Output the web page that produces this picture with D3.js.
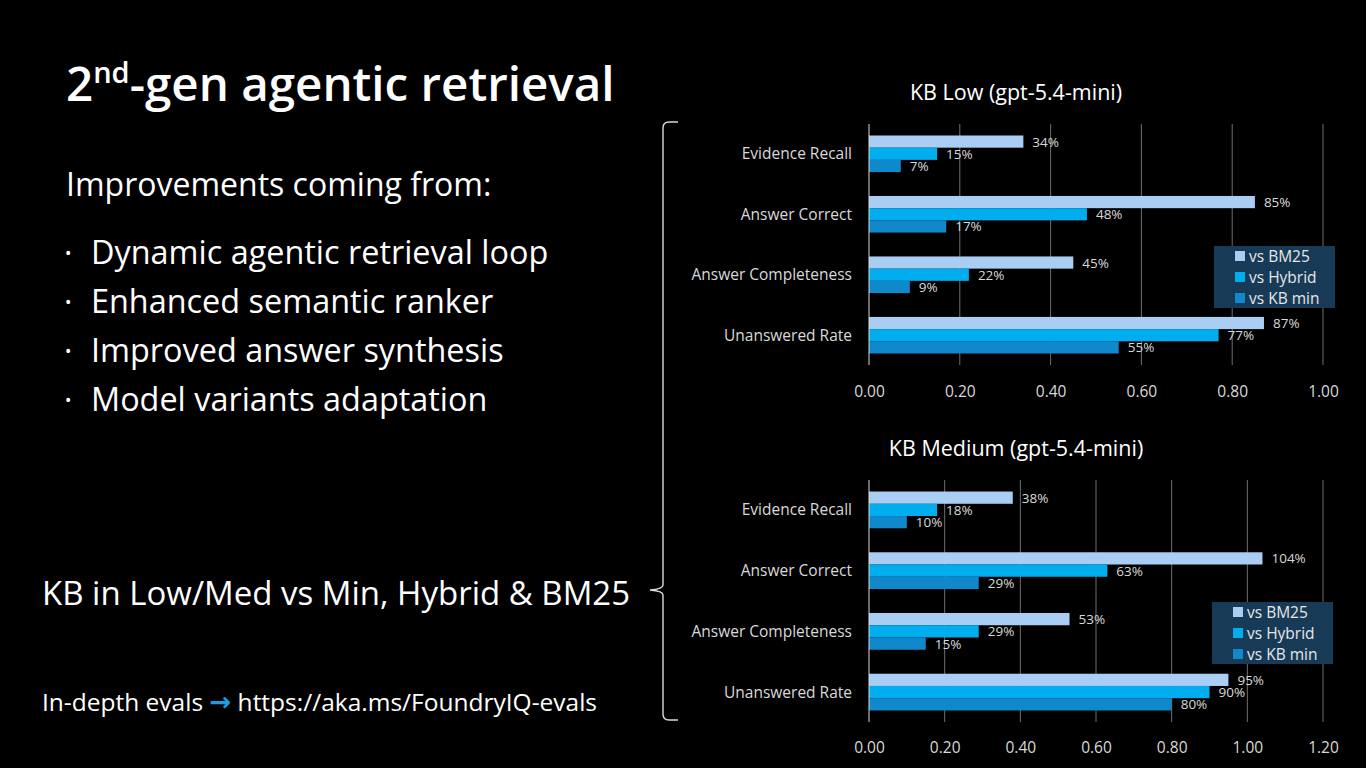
<!DOCTYPE html>
<html>
<head>
<meta charset="utf-8">
<script src="https://cdn.jsdelivr.net/npm/d3@7"></script>
<style>
  html, body { margin: 0; padding: 0; background: #000; }
  svg { display: block; font-family: "Open Sans", "Noto Sans", sans-serif; }
</style>
</head>
<body>
<svg id="slide"></svg>
<script>
// ---- data ----
const categories = ["Evidence Recall", "Answer Correct", "Answer Completeness", "Unanswered Rate"];
const seriesNames = ["vs BM25", "vs Hybrid", "vs KB min"];
const seriesColors = ["#a9cdf3", "#00aeef", "#0f88cc"];

const lowBM25   = [0.34, 0.85, 0.45, 0.87];
const lowHybrid = [0.15, 0.48, 0.22, 0.77];
const lowKBmin  = [0.07, 0.17, 0.09, 0.55];

const medBM25   = [0.38, 1.04, 0.53, 0.95];
const medHybrid = [0.18, 0.63, 0.29, 0.90];
const medKBmin  = [0.10, 0.29, 0.15, 0.80];

const lowTicks = [0, 0.2, 0.4, 0.6, 0.8, 1.0];
const medTicks = [0, 0.2, 0.4, 0.6, 0.8, 1.0, 1.2];

const bullets = ["Dynamic agentic retrieval loop", "Enhanced semantic ranker",
                 "Improved answer synthesis", "Model variants adaptation"];

const w = 1366;
const h = 768;

const svg = d3.select("#slide")
  .attr("width", w)
  .attr("height", h);

svg.append("rect").attr("width", w).attr("height", h).attr("fill", "#000");

// ---- left text ----
const title = svg.append("text")
  .attr("x", 66).attr("y", 101)
  .attr("fill", "#fff")
  .attr("font-size", 47.5)
  .attr("font-weight", 600);
title.append("tspan").text("2");
title.append("tspan").attr("font-size", 29).attr("dy", -18).text("nd");
title.append("tspan").attr("dy", 18).text("-gen agentic retrieval");

svg.append("text")
  .attr("x", 66).attr("y", 196)
  .attr("fill", "#fff")
  .attr("font-size", 32)
  .text("Improvements coming from:");

svg.selectAll("g.bullet")
  .data(bullets)
  .enter()
  .append("g")
  .attr("class", "bullet")
  .attr("transform", (d, i) => "translate(0," + (264 + i * 49) + ")")
  .call(g => {
    g.append("text").attr("x", 64).attr("fill", "#fff").attr("font-size", 32).text("·");
    g.append("text").attr("x", 91).attr("fill", "#fff").attr("font-size", 32.4).text(d => d);
  });

svg.append("text")
  .attr("x", 42).attr("y", 605)
  .attr("fill", "#fff")
  .attr("font-size", 33)
  .text("KB in Low/Med vs Min, Hybrid & BM25");

const evals = svg.append("text")
  .attr("x", 42).attr("y", 711)
  .attr("fill", "#fff")
  .attr("font-size", 24.5);
evals.append("tspan").text("In-depth evals ");
evals.append("tspan")
  .attr("fill", "#1e9be3")
  .attr("font-family", "DejaVu Sans")
  .attr("font-size", 26)
  .attr("font-weight", 700)
  .text("\u2192");
evals.append("tspan").text(" https://aka.ms/FoundryIQ-evals");

// ---- curly brace ----
const brace = d3.path();
brace.moveTo(678, 122);
brace.lineTo(669, 122);
brace.quadraticCurveTo(663, 122, 663, 128);
brace.lineTo(663, 585);
brace.quadraticCurveTo(663, 589, 650, 590);
brace.quadraticCurveTo(663, 591, 663, 595);
brace.lineTo(663, 714);
brace.quadraticCurveTo(663, 720, 669, 720);
brace.lineTo(678, 720);
svg.append("path")
  .attr("d", brace.toString())
  .attr("fill", "none")
  .attr("stroke", "#d9d9d9")
  .attr("stroke-width", 1.4);

// ---- charts ----
const drawChart = (cfg) => {
  const g = svg.append("g");
  const values = [cfg.bm25, cfg.hybrid, cfg.kbmin];
  const bottom = cfg.top + cfg.height;

  const xScale = d3.scaleLinear()
    .domain([0, cfg.ticks[cfg.ticks.length - 1]])
    .range([869, 1323]);

  const yScale = d3.scaleBand()
    .domain(categories)
    .range([cfg.top, bottom])
    .paddingInner(0.395)
    .paddingOuter(0.19);

  const ySub = d3.scaleBand()
    .domain(seriesNames)
    .range([0, yScale.bandwidth()]);

  // title
  g.append("text")
    .attr("x", 1016).attr("y", cfg.top - 24)
    .attr("text-anchor", "middle")
    .attr("fill", "#fff")
    .attr("font-size", 21.5)
    .text(cfg.title);

  // gridlines
  g.selectAll("line.grid")
    .data(cfg.ticks.slice(1))
    .enter()
    .append("line")
    .attr("class", "grid")
    .attr("x1", d => xScale(d)).attr("x2", d => xScale(d))
    .attr("y1", cfg.top).attr("y2", bottom)
    .attr("stroke", "#6f6f6f")
    .attr("stroke-width", 1);

  // bars
  const rows = [];
  categories.forEach((c, ci) => {
    seriesNames.forEach((s, si) => {
      rows.push({ cat: c, series: s, si: si, v: values[si][ci] });
    });
  });

  g.selectAll("rect.bar")
    .data(rows)
    .enter()
    .append("rect")
    .attr("class", "bar")
    .attr("x", xScale(0))
    .attr("y", d => yScale(d.cat) + ySub(d.series))
    .attr("width", d => xScale(d.v) - xScale(0))
    .attr("height", ySub.bandwidth())
    .attr("fill", d => seriesColors[d.si]);

  g.selectAll("text.val")
    .data(rows)
    .enter()
    .append("text")
    .attr("class", "val")
    .attr("x", d => xScale(d.v) + 9)
    .attr("y", d => yScale(d.cat) + ySub(d.series) + ySub.bandwidth() / 2 + 5)
    .attr("fill", "#d9d9d9")
    .attr("font-size", 13.5)
    .text(d => Math.round(d.v * 100) + "%");

  // zero axis line
  g.append("line")
    .attr("x1", xScale(0)).attr("x2", xScale(0))
    .attr("y1", cfg.top).attr("y2", bottom)
    .attr("stroke", "#d9d9d9");

  // category labels
  g.selectAll("text.cat")
    .data(categories)
    .enter()
    .append("text")
    .attr("class", "cat")
    .attr("x", 852)
    .attr("y", d => yScale(d) + yScale.bandwidth() / 2 + 5.5)
    .attr("text-anchor", "end")
    .attr("fill", "#d9d9d9")
    .attr("font-size", 15.5)
    .text(d => d);

  // x axis labels
  const xAxis = d3.axisBottom(xScale)
    .tickValues(cfg.ticks)
    .tickFormat(d3.format(".2f"))
    .tickSize(0)
    .tickPadding(cfg.labelPad);
  const ax = g.append("g")
    .attr("transform", "translate(0," + bottom + ")")
    .call(xAxis);
  ax.select(".domain").remove();
  ax.selectAll("text")
    .attr("fill", "#d9d9d9")
    .attr("font-size", 15.5)
    .attr("font-family", "Open Sans, sans-serif");

  // legend
  const lg = g.append("g")
    .attr("transform", "translate(" + cfg.legend[0] + "," + cfg.legend[1] + ")");
  lg.append("rect")
    .attr("width", 121).attr("height", 62)
    .attr("fill", "#173a56");
  const li = lg.selectAll("g.item")
    .data(seriesNames)
    .enter()
    .append("g")
    .attr("class", "item")
    .attr("transform", (d, i) => "translate(21," + (10 + i * 21) + ")");
  li.append("rect")
    .attr("x", 0).attr("y", -5)
    .attr("width", 10).attr("height", 10)
    .attr("fill", (d, i) => seriesColors[i]);
  li.append("text")
    .attr("x", 14).attr("y", 5.5)
    .attr("fill", "#e6e6e6")
    .attr("font-size", 15.5)
    .text(d => d);
};

drawChart({
  title: "KB Low (gpt-5.4-mini)",
  top: 124,
  height: 241,
  labelPad: 21,
  ticks: lowTicks,
  bm25: lowBM25, hybrid: lowHybrid, kbmin: lowKBmin,
  legend: [1214, 246]
});

drawChart({
  title: "KB Medium (gpt-5.4-mini)",
  top: 480,
  height: 242,
  labelPad: 20,
  ticks: medTicks,
  bm25: medBM25, hybrid: medHybrid, kbmin: medKBmin,
  legend: [1212, 602]
});
</script>
</body>
</html>
